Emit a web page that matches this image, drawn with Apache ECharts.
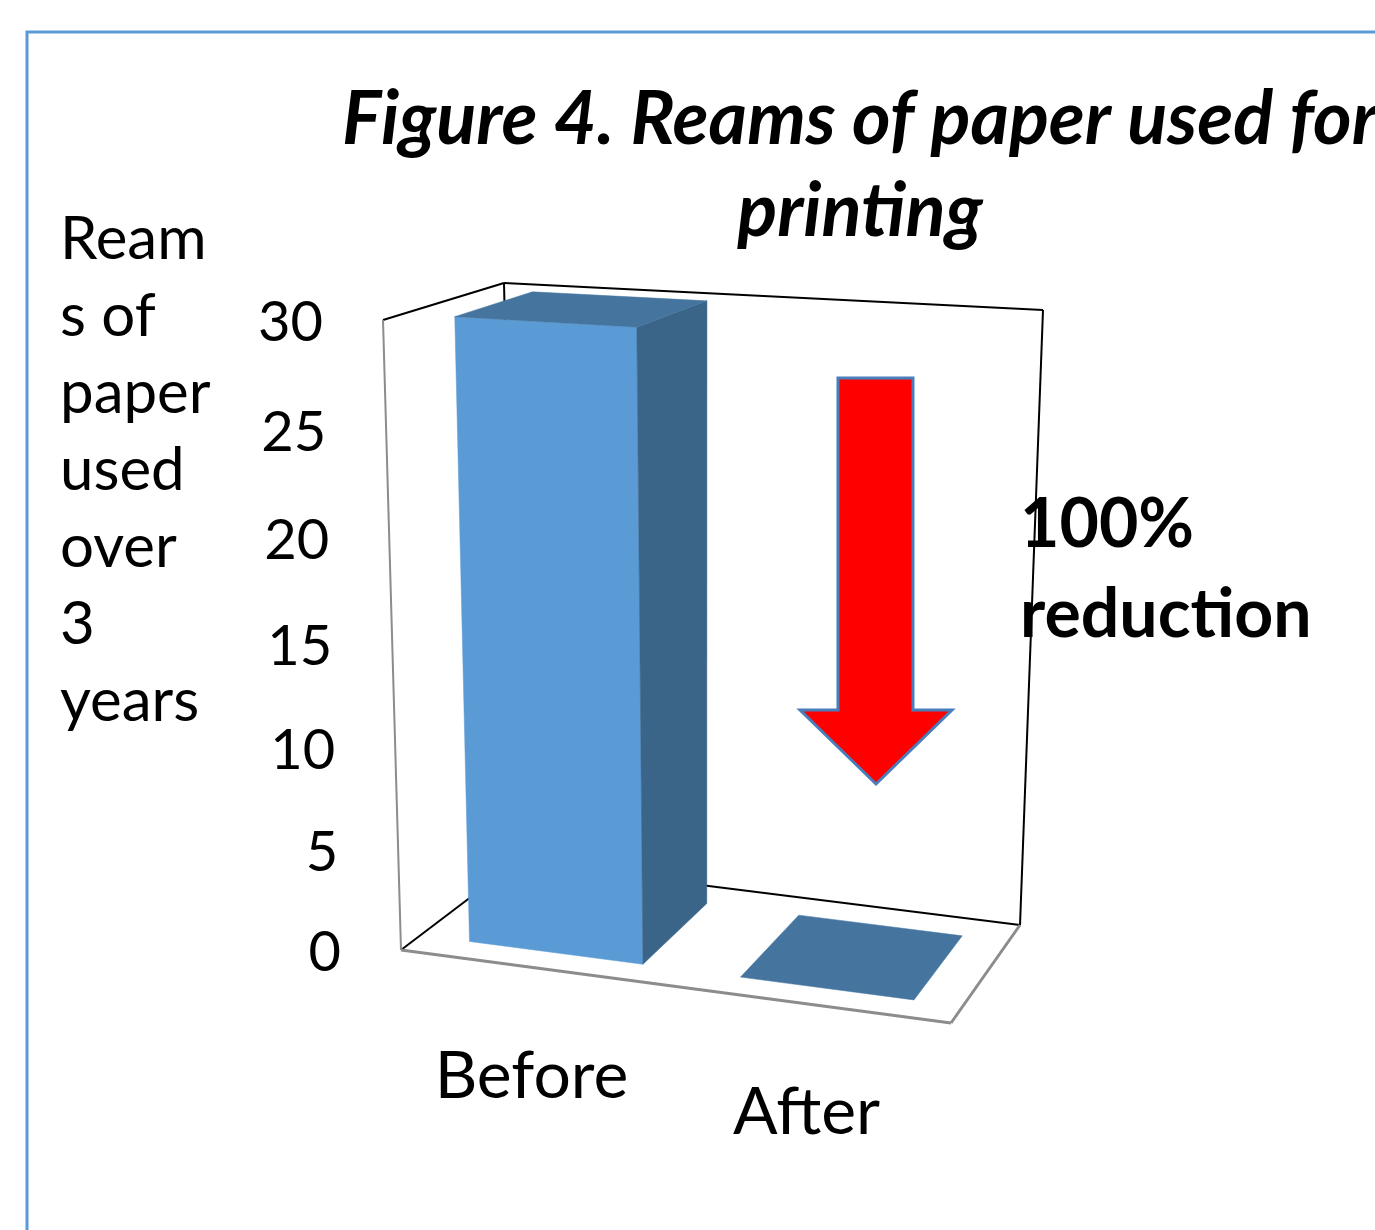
<!DOCTYPE html>
<html><head><meta charset="utf-8">
<script src="https://cdn.jsdelivr.net/npm/echarts@6/dist/echarts.min.js"></script>
<style>html,body{margin:0;padding:0;background:#fff}#chart{width:1375px;height:1230px}</style>
</head><body><div id="chart"></div>
<script>
// ---- data ----
const categories = ['Before', 'After'];
const reams = [30, 0];
const yTicks = [0, 5, 10, 15, 20, 25, 30];
const yMin = 0, yMax = 30, yStep = 5;
const titleText = 'Figure 4. Reams of paper used for\nprinting';
const yAxisTitle = 'Ream\ns of\npaper\nused\nover\n3\nyears';
const noteText = '100%\nreduction';

// ---- 3D box layout (screen corners of the plot box: key = u v w) ----
const BOX = {
  '000': [401, 950], '010': [383, 320], '001': [517, 862], '011': [504, 283],
  '100': [951, 1023], '110': [958, 354], '101': [1020, 925], '111': [1043, 310]
};
const PERSP = 1.057;           // vertical foreshortening
const W0 = 0.17, W1 = 0.83;    // bar depth span
const BAR_FRAC = 0.64;         // bar width as fraction of band
const FONT = 'Lato, "Open Sans", sans-serif';

function project(u, v, w) {
  const vp = v / (v + PERSP * (1 - v));
  let x = 0, y = 0;
  for (const a of [0, 1]) for (const b of [0, 1]) for (const c of [0, 1]) {
    const wt = (a ? u : 1 - u) * (b ? vp : 1 - vp) * (c ? w : 1 - w);
    const p = BOX['' + a + b + c];
    x += wt * p[0]; y += wt * p[1];
  }
  return [x, y];
}
function norm(params, api, xv, yv) {
  const cs = params.coordSys;
  const c = api.coord([xv, yv]);
  return [(c[0] - cs.x) / cs.width, (cs.y + cs.height - c[1]) / cs.height];
}

function renderFrame(params, api) {
  const L = (p, q, color, lw) => {
    const a = project(...p), b = project(...q);
    return { type: 'line', shape: { x1: a[0], y1: a[1], x2: b[0], y2: b[1] },
      style: { stroke: color, lineWidth: lw }, silent: true };
  };
  const blk = '#000', gry = '#8c8c8c';
  return { type: 'group', children: [
    L([0,1,1],[1,1,1], blk, 2),
    L([0,0,1],[0,1,1], blk, 2),
    L([1,0,1],[1,1,1], blk, 2),
    L([0,0,1],[1,0,1], blk, 2),
    L([0,1,0],[0,1,1], blk, 2),
    L([0,0,0],[0,0,1], blk, 2),
    L([0,0,0],[0,1,0], gry, 2),
    L([0,0,0],[1,0,0], gry, 3),
    L([1,0,0],[1,0,1], gry, 3)
  ]};
}

function renderBar(params, api) {
  const cs = params.coordSys;
  const [uc, v] = norm(params, api, api.value(0), api.value(1));
  const band = api.size([1, 0])[0] / cs.width;
  const u0 = uc - band * BAR_FRAC / 2, u1 = uc + band * BAR_FRAC / 2;
  const poly = (pts, fill) => ({ type: 'polygon',
    shape: { points: pts.map(p => project(...p)) }, style: { fill: fill, stroke: fill, lineWidth: 0.5 } });
  const children = [];
  if (v > 0) {
    children.push(poly([[u0,0,W0],[u1,0,W0],[u1,v,W0],[u0,v,W0]], '#5b9bd5'));
    children.push(poly([[u1,0,W0],[u1,0,W1],[u1,v,W1],[u1,v,W0]], '#3a6589'));
  }
  children.push(poly([[u0,v,W0],[u1,v,W0],[u1,v,W1],[u0,v,W1]], '#45759f'));
  const lp = project(uc, 0, 0);
  children.push({ type: 'text', style: {
    text: categories[api.value(0)], x: lp[0] - 7, y: lp[1] + 108,
    align: 'center', verticalAlign: 'middle', textAlign: 'center', textVerticalAlign: 'middle',
    font: '66px ' + FONT, fill: '#000' } });
  return { type: 'group', children };
}

function renderTick(params, api) {
  const [, v] = norm(params, api, 0, api.value(1));
  const p = project(0, v, 0);
  return { type: 'text', style: {
    text: String(api.value(1)), x: p[0] - 60, y: p[1] + 3,
    align: 'right', verticalAlign: 'middle', textAlign: 'right', textVerticalAlign: 'middle',
    font: '56px ' + FONT, fill: '#000' } };
}

const chart = echarts.init(document.getElementById('chart'), null, { renderer: 'canvas' });
chart.setOption({
  animation: false,
  backgroundColor: '#fff',
  grid: { left: 100, top: 100, width: 1000, height: 800, show: false },
  xAxis: { type: 'category', data: categories, show: false },
  yAxis: { type: 'value', min: yMin, max: yMax, interval: yStep, show: false },
  graphic: [
    { type: 'rect', shape: { x: 27, y: 32, width: 1400, height: 1250 },
      style: { fill: 'none', stroke: '#5b9bd5', lineWidth: 3 }, z: 100 },
    { type: 'text', style: { text: titleText, x: 860, y: 74,
      align: 'center', verticalAlign: 'top', textAlign: 'center', textVerticalAlign: 'top',
      font: 'italic bold 74px ' + FONT, lineHeight: 92, fill: '#000' }, z: 50 },
    { type: 'text', style: { text: yAxisTitle, x: 60, y: 201,
      align: 'left', verticalAlign: 'top', textAlign: 'left', textVerticalAlign: 'top',
      font: '60px ' + FONT, lineHeight: 77, fill: '#000' }, z: 50 },
    { type: 'polygon', shape: { points: [[838,378],[913,378],[913,710],[952,710],[876,784],[800,710],[838,710]] },
      style: { fill: '#ff0000', stroke: '#4a7ebb', lineWidth: 3 }, z: 60 },
    { type: 'text', style: { text: noteText, x: 1020, y: 480,
      align: 'left', verticalAlign: 'top', textAlign: 'left', textVerticalAlign: 'top',
      font: 'bold 68px ' + FONT, lineHeight: 90, fill: '#000' }, z: 70 }
  ],
  series: [
    { type: 'custom', renderItem: renderFrame, data: [[0, 0]], z: 1, silent: true },
    { type: 'custom', renderItem: renderBar, encode: { x: 0, y: 1 },
      data: categories.map((c, i) => [i, reams[i]]), z: 2 },
    { type: 'custom', renderItem: renderTick, encode: { x: 0, y: 1 },
      data: yTicks.map(t => [0, t]), z: 3 }
  ]
});
</script></body></html>
